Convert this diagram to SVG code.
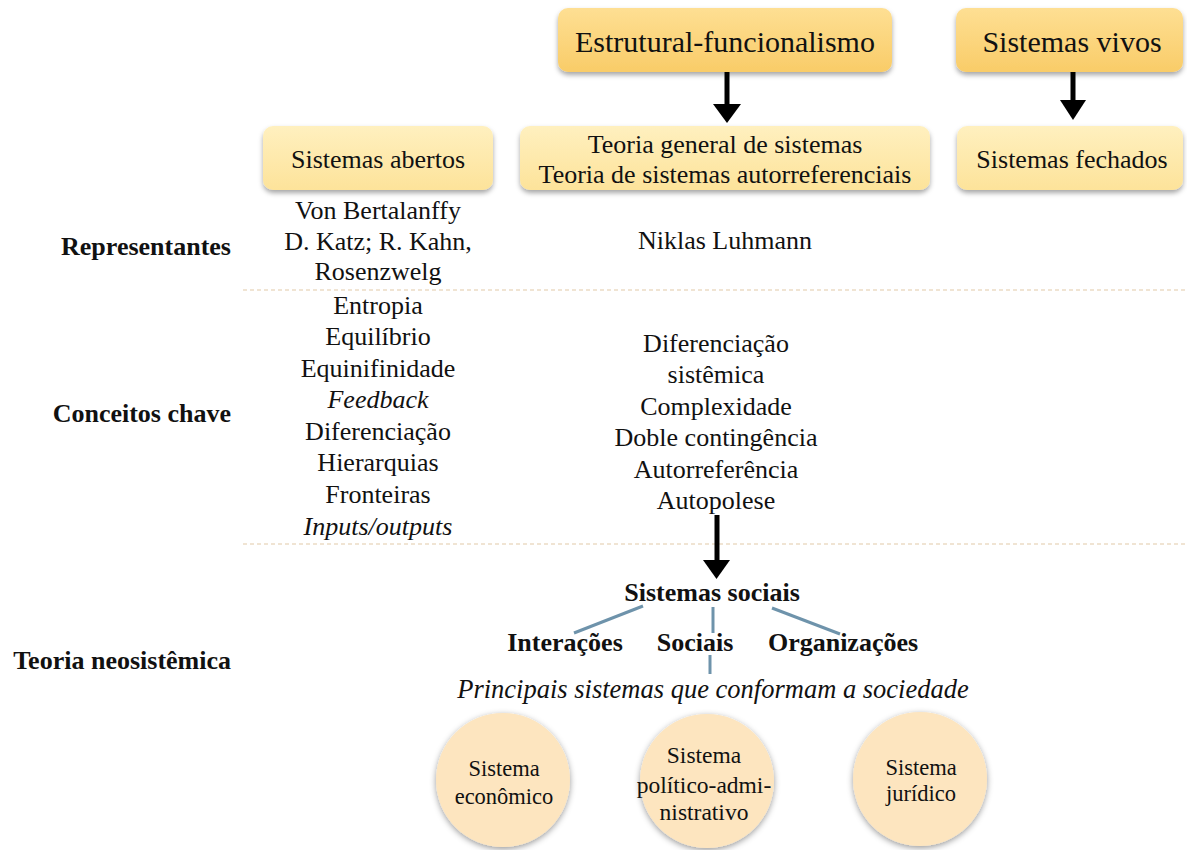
<svg xmlns="http://www.w3.org/2000/svg" width="1187" height="850" viewBox="0 0 1187 850">
  <defs>
    <linearGradient id="gDark" x1="0" y1="0" x2="0" y2="1">
      <stop offset="0" stop-color="#fedf93"/>
      <stop offset="1" stop-color="#f9cc68"/>
    </linearGradient>
    <linearGradient id="gLight" x1="0" y1="0" x2="0" y2="1">
      <stop offset="0" stop-color="#fff0bf"/>
      <stop offset="1" stop-color="#fde39a"/>
    </linearGradient>
    <filter id="shadow" x="-20%" y="-20%" width="140%" height="150%">
      <feDropShadow dx="0" dy="3" stdDeviation="2.5" flood-color="#000" flood-opacity="0.35"/>
    </filter>
    <filter id="softShadow" x="-20%" y="-20%" width="140%" height="140%">
      <feDropShadow dx="0" dy="2" stdDeviation="3" flood-color="#000" flood-opacity="0.4"/>
    </filter>
  </defs>
  <style>
    text { font-family: "Liberation Serif", "Times New Roman", serif; fill: #111; }
    .box { font-size: 26px; text-anchor: middle; }
    .boxL { font-size: 30px; text-anchor: middle; }
    .body { font-size: 26px; text-anchor: middle; }
    .it { font-style: italic; }
    .lbl { font-size: 26px; font-weight: bold; text-anchor: end; }
    .bold { font-size: 26px; font-weight: bold; text-anchor: middle; }
    .circ { font-size: 22.5px; text-anchor: middle; }
    .disc { fill: #fde5bf; filter: url(#softShadow); }
    .sep { stroke: #e2c9a8; stroke-width: 1.2; stroke-dasharray: 4 3; fill: none; }
    .link { stroke: #6e93ab; stroke-width: 3; fill: none; }
    .shaft { stroke: #000; stroke-width: 5; fill: none; }
    .head { fill: #000; }
  </style>

  <rect width="1187" height="850" fill="#fff"/>

  <!-- row separators -->
  <g id="separators">
    <line class="sep" x1="243" y1="290" x2="1185" y2="290"/>
    <line class="sep" x1="243" y1="544" x2="1185" y2="544"/>
  </g>

  <!-- connectors -->
  <g id="connectors">
    <line class="shaft" x1="727" y1="72" x2="727" y2="106"/>
    <polygon class="head" points="713,104 741,104 727,123"/>
    <line class="shaft" x1="1073" y1="72" x2="1073" y2="102"/>
    <polygon class="head" points="1060,100 1086,100 1073,120"/>
    <line class="shaft" x1="717" y1="515" x2="717" y2="562"/>
    <polygon class="head" points="703,560 730,560 716.5,579"/>
    <line class="link" x1="643" y1="606" x2="574" y2="633"/>
    <line class="link" x1="713" y1="607" x2="713" y2="633"/>
    <line class="link" x1="772" y1="608" x2="840" y2="634"/>
    <line class="link" x1="710" y1="655" x2="710" y2="674"/>
  </g>

  <g id="estrutural">
    <rect x="558" y="8" width="334" height="64" rx="10" fill="url(#gDark)" filter="url(#shadow)"/>
    <text class="boxL" x="725" y="52">Estrutural-funcionalismo</text>
  </g>
  <g id="vivos">
    <rect x="956" y="8" width="227" height="64" rx="10" fill="url(#gDark)" filter="url(#shadow)"/>
    <text class="boxL" x="1072" y="52">Sistemas vivos</text>
  </g>
  <g id="abertos">
    <rect x="263" y="126" width="230" height="64" rx="10" fill="url(#gLight)" filter="url(#shadow)"/>
    <text class="box" x="378" y="168">Sistemas abertos</text>
  </g>
  <g id="teoria">
    <rect x="520" y="126" width="410" height="64" rx="10" fill="url(#gLight)" filter="url(#shadow)"/>
    <text class="box" x="725" y="153">Teoria general de sistemas</text>
    <text class="box" x="725" y="183">Teoria de sistemas autorreferenciais</text>
  </g>
  <g id="fechados">
    <rect x="957" y="126" width="226" height="64" rx="10" fill="url(#gLight)" filter="url(#shadow)"/>
    <text class="box" x="1072" y="168">Sistemas fechados</text>
  </g>

  <!-- row labels -->
  <g id="labels">
    <text class="lbl" x="231" y="255">Representantes</text>
    <text class="lbl" x="231" y="422">Conceitos chave</text>
    <text class="lbl" x="231" y="669">Teoria neosistêmica</text>
  </g>

  <g id="representantes">
    <text class="body" x="378" y="219">Von Bertalanffy</text>
    <text class="body" x="378" y="250">D. Katz; R. Kahn,</text>
    <text class="body" x="378" y="280">Rosenzwelg</text>
    <text class="body" x="725" y="249">Niklas Luhmann</text>
  </g>

  <g id="conceitos-abertos">
    <text class="body" x="378" y="314">Entropia</text>
    <text class="body" x="378" y="345">Equilíbrio</text>
    <text class="body" x="378" y="377">Equinifinidade</text>
    <text class="body it" x="378" y="408">Feedback</text>
    <text class="body" x="378" y="440">Diferenciação</text>
    <text class="body" x="378" y="471">Hierarquias</text>
    <text class="body" x="378" y="503">Fronteiras</text>
    <text class="body it" x="378" y="535">Inputs/outputs</text>
  </g>

  <g id="conceitos-luhmann">
    <text class="body" x="716" y="352">Diferenciação</text>
    <text class="body" x="716" y="383">sistêmica</text>
    <text class="body" x="716" y="415">Complexidade</text>
    <text class="body" x="716" y="446">Doble contingência</text>
    <text class="body" x="716" y="478">Autorreferência</text>
    <text class="body" x="716" y="509">Autopolese</text>
  </g>

  <g id="sistemas-sociais">
    <text class="bold" x="712" y="601">Sistemas sociais</text>
  </g>
  <g id="interacoes">
    <text class="bold" x="565" y="651">Interações</text>
  </g>
  <g id="sociais">
    <text class="bold" x="695" y="651">Sociais</text>
  </g>
  <g id="organizacoes">
    <text class="bold" x="843" y="651">Organizações</text>
  </g>
  <g id="principais">
    <text class="body it" x="713" y="698" style="font-size:26.5px">Principais sistemas que conformam a sociedade</text>
  </g>

  <g id="economico">
    <circle class="disc" cx="503" cy="780" r="67"/>
    <text class="circ" x="504" y="776">Sistema</text>
    <text class="circ" x="504" y="804">econômico</text>
  </g>
  <g id="politico">
    <circle class="disc" cx="707" cy="781" r="67"/>
    <text class="circ" x="704" y="763" style="font-size:23.5px">Sistema</text>
    <text class="circ" x="704" y="793" style="font-size:23.5px">político-admi-</text>
    <text class="circ" x="704" y="820" style="font-size:23.5px">nistrativo</text>
  </g>
  <g id="juridico">
    <circle class="disc" cx="920" cy="779" r="67"/>
    <text class="circ" x="921" y="775">Sistema</text>
    <text class="circ" x="921" y="801">jurídico</text>
  </g>
</svg>
